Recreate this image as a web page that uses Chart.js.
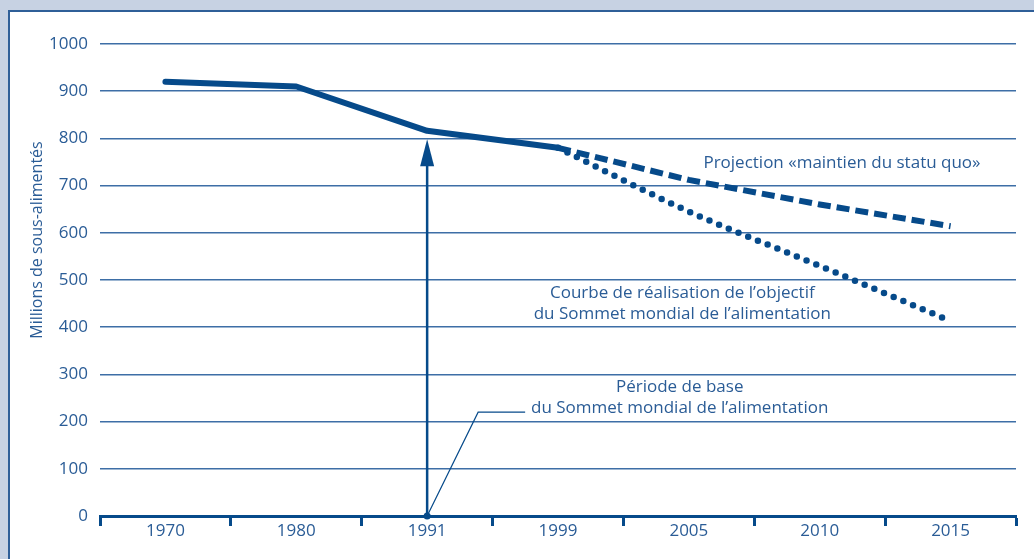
<!DOCTYPE html>
<html lang="fr">
<head>
<meta charset="utf-8">
<title>Sous-alimentés</title>
<script src="https://cdn.jsdelivr.net/npm/chart.js@4"></script>
<style>
    html, body {
        margin: 0;
        padding: 0;
        width: 1034px;
        height: 559px;
        overflow: hidden;
        background: #c7d2e3;
    }
    .panel {
        position: absolute;
        left: 8px;
        top: 10px;
        right: -4px;
        bottom: -4px;
        background: #ffffff;
        border-left: 2px solid #2f5f98;
        border-top: 2px solid #2f5f98;
    }
    #chart {
        position: absolute;
        left: 0;
        top: 0;
    }
</style>
</head>
<body>
<div class="panel"></div>
<canvas id="chart" width="1034" height="559"></canvas>
<script>
// Chart data
const years = ['1970', '1980', '1991', '1999', '2005', '2010', '2015'];
const observed = [920, 910, 816, 780, null, null, null];
const statusQuo = [null, null, null, 780, 712, 660, 614];
const summitGoal = [null, null, null, 780, 645, 530, 413];
const yTicks = [0, 100, 200, 300, 400, 500, 600, 700, 800, 900, 1000];

const baseYearIndex = 2;
const arrowTop = 798;

// Text labels: category position + value position
const notes = [
    { lines: ['Projection «maintien du statu quo»'], x: 5.17, y: 748 },
    { lines: ['Courbe de réalisation de l\u2019objectif', 'du Sommet mondial de l\u2019alimentation'], x: 3.95, y: 472 },
    { lines: ['Période de base', 'du Sommet mondial de l\u2019alimentation'], x: 3.93, y: 273 }
];

const DARK = '#064a8a';
const TEXT = '#2a5c96';
const GRID = '#3d6ea6';
const FONT = '"Open Sans", "Noto Sans", sans-serif';

// Draw the arrow, the leader line, the notes and the y title
const annotationPlugin = {
    id: 'annotations',
    afterDatasetsDraw(chart) {
        const ctx = chart.ctx;
        const xs = chart.scales.x;
        const ys = chart.scales.y;
        const ax = xs.getPixelForValue(baseYearIndex);
        const ay0 = ys.getPixelForValue(0);
        const ay1 = ys.getPixelForValue(arrowTop);

        ctx.save();
        // vertical arrow
        ctx.strokeStyle = DARK;
        ctx.fillStyle = DARK;
        ctx.lineWidth = 2.5;
        ctx.beginPath();
        ctx.moveTo(ax, ay0);
        ctx.lineTo(ax, ay1 + 20);
        ctx.stroke();
        ctx.beginPath();
        ctx.moveTo(ax, ay1);
        ctx.lineTo(ax - 7, ay1 + 27);
        ctx.lineTo(ax + 7, ay1 + 27);
        ctx.closePath();
        ctx.fill();

        // base dot
        ctx.beginPath();
        ctx.arc(ax, ay0, 3.5, 0, Math.PI * 2);
        ctx.fill();

        // leader line to the base period note
        const ly = ys.getPixelForValue(220);
        ctx.lineWidth = 1.2;
        ctx.beginPath();
        ctx.moveTo(ax, ay0);
        ctx.lineTo(ax + 51, ly);
        ctx.lineTo(ax + 98, ly);
        ctx.stroke();

        // notes
        ctx.fillStyle = TEXT;
        ctx.font = '17px ' + FONT;
        ctx.textAlign = 'center';
        ctx.textBaseline = 'middle';
        notes.forEach(note => {
            const x = xs.getPixelForValue(note.x);
            const y = ys.getPixelForValue(note.y);
            note.lines.forEach((line, i) => {
                ctx.fillText(line, x, y + i * 21);
            });
        });

        // y axis title
        ctx.font = '16px ' + FONT;
        ctx.translate(37, (ys.top + ys.bottom) / 2 - 40);
        ctx.rotate(-Math.PI / 2);
        ctx.fillText('Millions de sous-alimentés', 0, 0);
        ctx.restore();
    }
};

new Chart(document.getElementById('chart').getContext('2d'), {
    type: 'line',
    data: {
        labels: years,
        datasets: [{
            data: observed,
            borderColor: DARK,
            borderWidth: 6,
            borderCapStyle: 'round',
            borderJoinStyle: 'round',
            pointRadius: 0,
            tension: 0
        }, {
            data: statusQuo,
            borderColor: DARK,
            borderWidth: 6,
            borderDash: [13, 6],
            pointRadius: 0,
            tension: 0
        }, {
            data: summitGoal,
            borderColor: DARK,
            borderWidth: 6.5,
            borderDash: [0, 10.5],
            borderCapStyle: 'round',
            pointRadius: 0,
            cubicInterpolationMode: 'monotone'
        }]
    },
    options: {
        responsive: false,
        animation: false,
        layout: {
            padding: { left: 0, right: 18, top: 44, bottom: 0 }
        },
        plugins: {
            legend: { display: false },
            tooltip: { enabled: false }
        },
        scales: {
            x: {
                offset: true,
                grid: {
                    offset: true,
                    drawOnChartArea: false,
                    drawTicks: true,
                    tickLength: 10,
                    tickWidth: 3,
                    tickColor: DARK
                },
                border: {
                    display: true,
                    color: DARK,
                    width: 3
                },
                ticks: {
                    color: TEXT,
                    font: { family: FONT, size: 17 },
                    padding: -5,
                    maxRotation: 0
                },
                afterFit(scale) {
                    scale.height = 43;
                }
            },
            y: {
                min: 0,
                max: 1000,
                afterBuildTicks(scale) {
                    scale.ticks = yTicks.map(v => ({ value: v }));
                },
                grid: {
                    color: GRID,
                    lineWidth: 1.5,
                    drawTicks: false
                },
                border: { display: false },
                ticks: {
                    color: TEXT,
                    font: { family: FONT, size: 17 },
                    padding: 12,
                    callback: value => String(value)
                },
                afterFit(scale) {
                    scale.width = 100;
                }
            }
        }
    },
    plugins: [annotationPlugin]
});
</script>
</body>
</html>
